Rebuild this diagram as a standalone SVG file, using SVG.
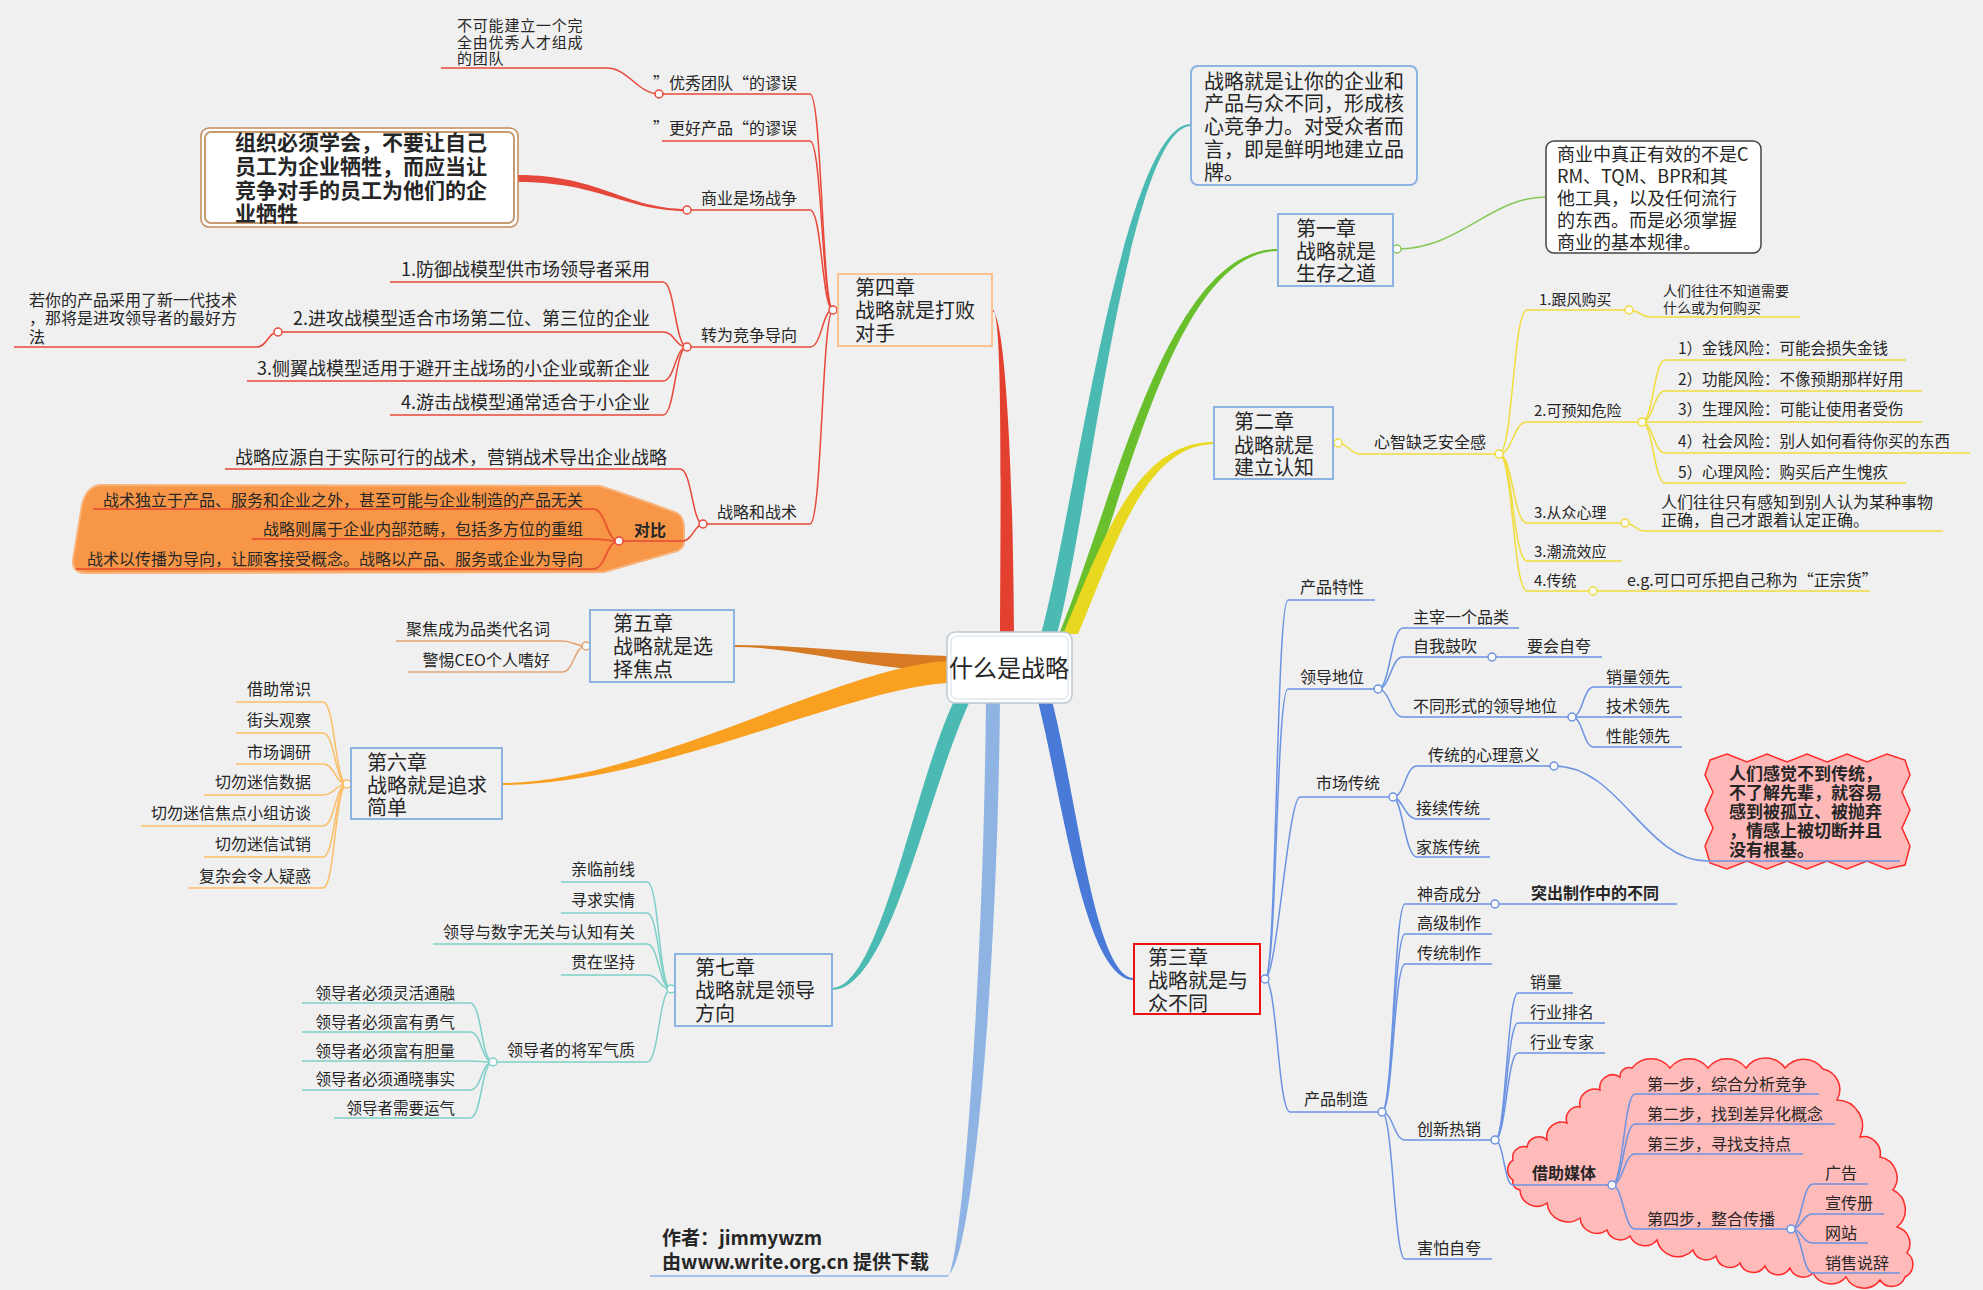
<svg xmlns="http://www.w3.org/2000/svg" width="1983" height="1290" viewBox="0 0 1983 1290">
<style>
.t{font-family:"Noto Sans CJK SC","Noto Sans",sans-serif;fill:#262626}
.e{text-anchor:end}
.m{text-anchor:middle}
.b{font-weight:bold}
.f14{font-size:14px}.f15{font-size:15px}.f155{font-size:15.5px}.f16{font-size:16px}.f17{font-size:17px}.f18{font-size:18px}.f19{font-size:19px}.f20{font-size:20px}.f21{font-size:21px}.f24{font-size:24px}
.ln{fill:none;stroke-width:1.5}
.r{stroke:#e8483a}.r3{stroke:#e85a32;stroke-width:2}
.o5{stroke:#e2a474}.o6{stroke:#fbbd66}.tl{stroke:#7dcfc8}.g{stroke:#86c858}.y{stroke:#f0dc3c}.bl{stroke:#6b93e2}.lb{stroke:#8fb4e8}
.nc{fill:#fafafa;stroke-width:1.5}
.cb{fill:none;stroke:#8db3e2;stroke-width:2}
</style>
<rect x="0" y="0" width="1983" height="1290" fill="#f0f0f0"/>

<!-- background shapes -->
<g id="shapes">
<path id="blob-duibi" fill="#f79646" stroke="#f9b27a" stroke-width="2" d="M102,485 L600,486 C625,494 655,505 677,513 Q684,517 684,528 L684,542 Q684,548 677,551 L604,572 L86,573 Q72,573 73,560 L82,505 Q87,485 102,485 Z"/>
<path id="cloud-meiti" fill="#ffbaba" stroke="#ff2a2a" stroke-width="1.5" d="M1632,1068 A24,24 0 0 1 1670,1068 A24,24 0 0 1 1708,1068 A24,24 0 0 1 1746,1068 A24,24 0 0 1 1785,1068 A24,24 0 0 1 1823,1069 A21,21 0 0 1 1837,1100 A26,26 0 0 1 1860,1137 A17,17 0 0 1 1880,1157 A21,21 0 0 1 1893,1190 A22,22 0 0 1 1897,1227 A17,17 0 0 1 1907,1253 A14,14 0 0 1 1905,1277 A14,14 0 0 1 1880,1280 A20,20 0 0 1 1846,1277 A20,20 0 0 1 1813,1273 A14,14 0 0 1 1790,1268 A14,14 0 0 1 1765,1266 A14,14 0 0 1 1740,1263 A14,14 0 0 1 1716,1256 A14,14 0 0 1 1693,1250 A21,21 0 0 1 1657,1240 A16,16 0 0 1 1630,1236 A14,14 0 0 1 1607,1230 A17,17 0 0 1 1580,1218 A21,21 0 0 1 1547,1203 A17,17 0 0 1 1520,1190 A8,8 0 0 1 1513,1180 A12,12 0 0 1 1513,1160 A11,11 0 0 1 1527,1147 A12,12 0 0 1 1547,1140 A15,15 0 0 1 1567,1123 A12,12 0 0 1 1580,1107 A15,15 0 0 1 1600,1090 A13,13 0 0 1 1620,1077 A9,9 0 0 1 1632,1068 Z"/>
<path id="wave-box" fill="#ffb8b8" stroke="#ff2a2a" stroke-width="1.5" d="M1710,760 L1727,754 L1747,762 L1767,754 L1787,762 L1807,754 L1827,762 L1847,754 L1867,762 L1887,754 L1905,760 L1910,775 L1902,792 L1910,810 L1902,828 L1910,846 L1905,865 L1887,869 L1867,861 L1847,869 L1827,861 L1807,869 L1787,861 L1767,869 L1747,861 L1727,869 L1710,863 L1705,846 L1713,828 L1705,810 L1713,792 L1705,775 Z"/>
</g>

<!-- connectors -->
<g id="connectors">
<!-- main tapered branches -->
<path fill="#e3402f" d="M1000,634 C1001,450 1002,309 992,309 L992,311 C1004,311 1013,450 1014,634 Z"/>
<path fill="#4bbab2" d="M1041,634 C1073,520 1122,124 1191,124 L1191,126 C1128,127 1088,522 1057,634 Z"/>
<path fill="#6ac02c" d="M1059,634 C1115,498 1167,249 1278,249 L1278,251 C1173,252 1126,503 1071,634 Z"/>
<path fill="#e8d820" d="M1063,634 C1104,537 1136,442 1214,442 L1214,444 C1145,445 1116,544 1078,634 Z"/>
<path fill="#4a7ad8" d="M1038,701 C1063,802 1085,980 1134,980 L1134,978 C1095,978 1077,798 1052,701 Z"/>
<path fill="#8fb4e4" d="M986,701 C983,1000 960,1277 947,1277 L947,1275 C970,1275 997,1000 1000,701 Z"/>
<path fill="#4bbab2" d="M954,701 C913,788 880,988 832,988 L832,990 C890,990 927,792 970,701 Z"/>
<path fill="#d67a24" d="M949,656 C860,653 800,645 734,645 L734,647 C800,647 860,668 949,672 Z"/>
<path fill="#f9a020" d="M949,661 C845,664 645,783 502,783 L502,785 C655,785 855,686 949,683 Z"/>
<path class="ln lb" d="M947,1276 H650"/>

<!-- chapter 4 -->
<path class="ln r" d="M833,310 C822,310 822,94 810,94 H659"/>
<path class="ln r" d="M659,94 C638,94 628,68 607,68 H441"/>
<path class="ln r" d="M833,310 C822,310 822,141 810,141 H662"/>
<path class="ln r" d="M833,310 C822,310 822,210 810,210 H687"/>
<path fill="#e5483a" d="M518,175 C600,175 625,209 687,209 L687,211 C625,211 600,182 518,182 Z"/>
<path class="ln r" d="M833,310 C822,310 822,347 810,347 H687"/>
<path class="ln r" d="M833,310 C822,310 822,524 810,524 H703"/>
<path class="ln r" d="M687,347 C675,347 675,282 663,282 H390"/>
<path class="ln r" d="M687,347 C675,347 675,332 663,332 H278"/>
<path class="ln r" d="M278,332 C268,332 267,347 257,347 H14"/>
<path class="ln r" d="M687,347 C675,347 675,381 663,381 H247"/>
<path class="ln r" d="M687,347 C675,347 675,415 663,415 H390"/>
<path class="ln r" d="M703,524 C692,524 692,469 680,469 H225"/>
<path class="ln r" d="M703,524 C695,524 692,541 683,541 H619"/>
<path class="ln r3" d="M619,541 C606,541 606,509 593,509 H93"/>
<path class="ln r3" d="M619,541 C608,541 604,539 593,539 H252"/>
<path class="ln r3" d="M619,541 C606,541 606,569 593,569 H76"/>

<!-- chapter 5 -->
<path class="ln o5" d="M586,646 C574,646 574,641 562,641 H396"/>
<path class="ln o5" d="M586,646 C574,646 574,672 562,672 H408"/>

<!-- chapter 6 -->
<path class="ln o6" d="M347,784 C335,784 335,702 323,702 H236"/>
<path class="ln o6" d="M347,784 C335,784 335,733 323,733 H236"/>
<path class="ln o6" d="M347,784 C335,784 335,764 323,764 H236"/>
<path class="ln o6" d="M347,784 C335,784 335,795 323,795 H204"/>
<path class="ln o6" d="M347,784 C335,784 335,826 323,826 H141"/>
<path class="ln o6" d="M347,784 C335,784 335,857 323,857 H204"/>
<path class="ln o6" d="M347,784 C335,784 335,888 323,888 H188"/>

<!-- chapter 7 -->
<path class="ln tl" d="M671,989 C659,989 659,882 647,882 H561"/>
<path class="ln tl" d="M671,989 C659,989 659,913 647,913 H561"/>
<path class="ln tl" d="M671,989 C659,989 659,944 647,944 H433"/>
<path class="ln tl" d="M671,989 C659,989 659,975 647,975 H561"/>
<path class="ln tl" d="M671,989 C659,989 659,1062 647,1062 H493"/>
<path class="ln tl" d="M493,1062 C481,1062 482,1003 470,1003 H302"/>
<path class="ln tl" d="M493,1062 C481,1062 482,1032 470,1032 H302"/>
<path class="ln tl" d="M493,1062 C481,1062 482,1061 470,1061 H302"/>
<path class="ln tl" d="M493,1062 C481,1062 482,1090 470,1090 H302"/>
<path class="ln tl" d="M493,1062 C481,1062 482,1118 470,1118 H334"/>

<!-- chapter 1 -->
<path class="ln g" d="M1397,249 C1460,249 1490,197 1546,197"/>

<!-- chapter 2 -->
<path class="ln y" d="M1338,443 C1348,443 1350,454 1360,454 H1499"/>
<path class="ln y" d="M1499,454 C1513,454 1513,310 1527,310 H1629"/>
<path class="ln y" d="M1629,310 C1640,310 1640,317 1650,317 H1800"/>
<path class="ln y" d="M1499,454 C1513,454 1513,422 1527,422 H1642"/>
<path class="ln y" d="M1499,454 C1513,454 1513,523 1527,523 H1625"/>
<path class="ln y" d="M1625,523 C1635,523 1635,531 1645,531 H1943"/>
<path class="ln y" d="M1499,454 C1513,454 1513,561 1527,561 H1622"/>
<path class="ln y" d="M1499,454 C1513,454 1513,591 1527,591 H1870"/>
<path class="ln y" d="M1642,422 C1653,422 1654,360 1665,360 H1906"/>
<path class="ln y" d="M1642,422 C1653,422 1654,391 1665,391 H1922"/>
<path class="ln y" d="M1642,422 H1922"/>
<path class="ln y" d="M1642,422 C1653,422 1654,453 1665,453 H1970"/>
<path class="ln y" d="M1642,422 C1653,422 1654,483 1665,483 H1906"/>

<!-- chapter 3 -->
<path class="ln bl" d="M1265,979 C1277,979 1276,600 1288,600 H1375"/>
<path class="ln bl" d="M1265,979 C1277,979 1276,689 1288,689 H1378"/>
<path class="ln bl" d="M1265,979 C1277,979 1288,797 1300,797 H1393"/>
<path class="ln bl" d="M1265,979 C1277,979 1278,1112 1290,1112 H1382"/>
<path class="ln bl" d="M1378,689 C1390,689 1391,628 1403,628 H1519"/>
<path class="ln bl" d="M1378,689 C1390,689 1391,657 1403,657 H1602"/>
<path class="ln bl" d="M1378,689 C1390,689 1391,717 1403,717 H1572"/>
<path class="ln bl" d="M1572,717 C1583,717 1583,687 1594,687 H1682"/>
<path class="ln bl" d="M1572,717 H1682"/>
<path class="ln bl" d="M1572,717 C1583,717 1583,747 1594,747 H1682"/>
<path class="ln bl" d="M1393,797 C1405,797 1405,766 1417,766 H1554"/>
<path class="ln bl" d="M1554,766 C1620,766 1645,861 1707,861 H1900"/>
<path class="ln bl" d="M1393,797 C1402,797 1405,819 1417,819 H1490"/>
<path class="ln bl" d="M1393,797 C1402,797 1405,857 1417,857 H1490"/>
<path class="ln bl" d="M1382,1112 C1393,1112 1394,904 1405,904 H1677"/>
<path class="ln bl" d="M1382,1112 C1393,1112 1394,934 1405,934 H1492"/>
<path class="ln bl" d="M1382,1112 C1393,1112 1394,964 1405,964 H1492"/>
<path class="ln bl" d="M1382,1112 C1393,1112 1394,1140 1405,1140 H1495"/>
<path class="ln bl" d="M1382,1112 C1393,1112 1394,1259 1405,1259 H1492"/>
<path class="ln bl" d="M1495,1140 C1506,1140 1507,993 1518,993 H1573"/>
<path class="ln bl" d="M1495,1140 C1506,1140 1507,1023 1518,1023 H1605"/>
<path class="ln bl" d="M1495,1140 C1506,1140 1507,1053 1518,1053 H1605"/>
<path class="ln bl" d="M1495,1140 C1504,1140 1504,1185 1513,1185 H1612"/>
<path class="ln bl" d="M1612,1185 C1623,1185 1624,1094 1635,1094 H1819"/>
<path class="ln bl" d="M1612,1185 C1623,1185 1624,1124 1635,1124 H1835"/>
<path class="ln bl" d="M1612,1185 C1623,1185 1624,1154 1635,1154 H1803"/>
<path class="ln bl" d="M1612,1185 C1623,1185 1624,1229 1635,1229 H1791"/>
<path class="ln bl" d="M1791,1229 C1802,1229 1802,1184 1813,1184 H1868"/>
<path class="ln bl" d="M1791,1229 C1802,1229 1802,1214 1813,1214 H1884"/>
<path class="ln bl" d="M1791,1229 C1802,1229 1802,1243 1813,1243 H1868"/>
<path class="ln bl" d="M1791,1229 C1802,1229 1802,1273 1813,1273 H1900"/>

<!-- junction circles -->
<g class="nc" stroke="#e8483a">
<circle cx="833" cy="310" r="4"/><circle cx="659" cy="94" r="4"/><circle cx="687" cy="210" r="4"/><circle cx="687" cy="347" r="4"/><circle cx="278" cy="332" r="4"/><circle cx="703" cy="524" r="4"/><circle cx="619" cy="541" r="4"/>
</g>
<circle class="nc" stroke="#e2a474" cx="586" cy="646" r="4"/>
<circle class="nc" stroke="#fbbd66" cx="347" cy="784" r="4"/>
<g class="nc" stroke="#7dcfc8"><circle cx="671" cy="989" r="4"/><circle cx="493" cy="1062" r="4"/></g>
<circle class="nc" stroke="#86c858" cx="1397" cy="249" r="4"/>
<g class="nc" stroke="#f0dc3c">
<circle cx="1338" cy="443" r="4"/><circle cx="1499" cy="454" r="4"/><circle cx="1629" cy="310" r="4"/><circle cx="1642" cy="422" r="4"/><circle cx="1625" cy="523" r="4"/><circle cx="1593" cy="591" r="4"/>
</g>
<g class="nc" stroke="#6b93e2">
<circle cx="1265" cy="979" r="4"/><circle cx="1378" cy="689" r="4"/><circle cx="1492" cy="657" r="4"/><circle cx="1572" cy="717" r="4"/><circle cx="1393" cy="797" r="4"/><circle cx="1554" cy="766" r="4"/><circle cx="1382" cy="1112" r="4"/><circle cx="1495" cy="904" r="4"/><circle cx="1495" cy="1140" r="4"/><circle cx="1612" cy="1185" r="4"/><circle cx="1791" cy="1229" r="4"/>
</g>
</g>

<!-- central -->
<g id="root">
<rect x="947" y="632" width="125" height="71" rx="8" fill="#ffffff" stroke="#bcc6d4" stroke-width="1.5"/>
<rect x="951" y="636" width="117" height="63" rx="6" fill="#ffffff" stroke="#d4dae2" stroke-width="1"/>
<text class="t f24 m" x="1009" y="677">什么是战略</text>
</g>

<!-- chapter 4 -->
<g id="ch4">
<rect x="838" y="274" width="154" height="72" fill="none" stroke="#fbc190" stroke-width="2"/>
<text class="t f20" x="855"><tspan x="855" y="295">第四章</tspan><tspan x="855" y="318">战略就是打败</tspan><tspan x="855" y="341">对手</tspan></text>
</g>
<g id="ch4-items">
<text class="t f15" x="457" style="letter-spacing:0.8px"><tspan x="457" y="31">不可能建立一个完</tspan><tspan x="457" y="48">全由优秀人才组成</tspan><tspan x="457" y="64">的团队</tspan></text>
<text class="t f16 e" x="797" y="89">”优秀团队“的谬误</text>
<text class="t f16 e" x="797" y="134">”更好产品“的谬误</text>
<text class="t f16 e" x="797" y="204">商业是场战争</text>
<text class="t f16 e" x="797" y="341">转为竞争导向</text>
<text class="t f16 e" x="797" y="518">战略和战术</text>
<text class="t f18 e" x="650" y="276">1.防御战模型供市场领导者采用</text>
<text class="t f18 e" x="650" y="325">2.进攻战模型适合市场第二位、第三位的企业</text>
<text class="t f18 e" x="650" y="375">3.侧翼战模型适用于避开主战场的小企业或新企业</text>
<text class="t f18 e" x="650" y="409">4.游击战模型通常适合于小企业</text>
<text class="t f16" x="29"><tspan x="29" y="306">若你的产品采用了新一代技术</tspan><tspan x="29" y="324">，那将是进攻领导者的最好方</tspan><tspan x="29" y="343">法</tspan></text>
<text class="t f18 e" x="667" y="464">战略应源自于实际可行的战术，营销战术导出企业战略</text>
<text class="t f16 e b" x="666" y="536">对比</text>
<text class="t f16 e" x="583" y="506">战术独立于产品、服务和企业之外，甚至可能与企业制造的产品无关</text>
<text class="t f16 e" x="583" y="535">战略则属于企业内部范畴，包括多方位的重组</text>
<text class="t f16 e" x="583" y="565">战术以传播为导向，让顾客接受概念。战略以产品、服务或企业为导向</text>
</g>
<g id="box-zuzhi">
<rect x="201" y="128" width="317" height="99" rx="8" fill="#ffffff" stroke="#c08a5a" stroke-width="1.5"/>
<rect x="205" y="132" width="309" height="91" rx="6" fill="#ffffff" stroke="#c89a70" stroke-width="2"/>
<text class="t f21 b" x="235"><tspan x="235" y="150">组织必须学会，不要让自己</tspan><tspan x="235" y="174">员工为企业牺牲，而应当让</tspan><tspan x="235" y="198">竞争对手的员工为他们的企</tspan><tspan x="235" y="221">业牺牲</tspan></text>
</g>

<!-- chapter 5 -->
<g id="ch5">
<rect x="590" y="610" width="144" height="72" class="cb"/>
<text class="t f20" x="613"><tspan x="613" y="631">第五章</tspan><tspan x="613" y="654">战略就是选</tspan><tspan x="613" y="677">择焦点</tspan></text>
<text class="t f16 e" x="550" y="635">聚焦成为品类代名词</text>
<text class="t f16 e" x="550" y="666">警惕CEO个人嗜好</text>
</g>

<!-- chapter 6 -->
<g id="ch6">
<rect x="351" y="748" width="151" height="71" class="cb"/>
<text class="t f20" x="367"><tspan x="367" y="770">第六章</tspan><tspan x="367" y="793">战略就是追求</tspan><tspan x="367" y="815">简单</tspan></text>
<text class="t f16 e" x="311" y="695">借助常识</text>
<text class="t f16 e" x="311" y="726">街头观察</text>
<text class="t f16 e" x="311" y="758">市场调研</text>
<text class="t f16 e" x="311" y="788">切勿迷信数据</text>
<text class="t f16 e" x="311" y="819">切勿迷信焦点小组访谈</text>
<text class="t f16 e" x="311" y="850">切勿迷信试销</text>
<text class="t f16 e" x="311" y="882">复杂会令人疑惑</text>
</g>

<!-- chapter 7 -->
<g id="ch7">
<rect x="675" y="954" width="157" height="72" class="cb"/>
<text class="t f20" x="695"><tspan x="695" y="975">第七章</tspan><tspan x="695" y="998">战略就是领导</tspan><tspan x="695" y="1021">方向</tspan></text>
<text class="t f16 e" x="635" y="875">亲临前线</text>
<text class="t f16 e" x="635" y="906">寻求实情</text>
<text class="t f16 e" x="635" y="938">领导与数字无关与认知有关</text>
<text class="t f16 e" x="635" y="968">贯在坚持</text>
<text class="t f16 e" x="635" y="1056">领导者的将军气质</text>
<text class="t f155 e" x="455" y="999">领导者必须灵活通融</text>
<text class="t f155 e" x="455" y="1028">领导者必须富有勇气</text>
<text class="t f155 e" x="455" y="1057">领导者必须富有胆量</text>
<text class="t f155 e" x="455" y="1085">领导者必须通晓事实</text>
<text class="t f155 e" x="455" y="1114">领导者需要运气</text>
</g>

<!-- author -->
<g id="author">
<text class="t f19 b" x="662"><tspan x="662" y="1245">作者：jimmywzm</tspan><tspan x="662" y="1269">由www.write.org.cn 提供下载</tspan></text>
</g>

<!-- top definition -->
<g id="definition">
<rect x="1191" y="66" width="226" height="119" rx="7" fill="none" stroke="#8db3e2" stroke-width="2"/>
<text class="t f20" x="1204"><tspan x="1204" y="89">战略就是让你的企业和</tspan><tspan x="1204" y="111">产品与众不同，形成核</tspan><tspan x="1204" y="134">心竞争力。对受众者而</tspan><tspan x="1204" y="157">言，即是鲜明地建立品</tspan><tspan x="1204" y="180">牌。</tspan></text>
</g>

<!-- chapter 1 -->
<g id="ch1">
<rect x="1278" y="214" width="115" height="72" class="cb"/>
<text class="t f20" x="1296"><tspan x="1296" y="236">第一章</tspan><tspan x="1296" y="259">战略就是</tspan><tspan x="1296" y="281">生存之道</tspan></text>
</g>
<g id="box-shangye">
<rect x="1546" y="141" width="215" height="112" rx="8" fill="#ffffff" stroke="#444444" stroke-width="1.5"/>
<text class="t f18" x="1557"><tspan x="1557" y="161">商业中真正有效的不是C</tspan><tspan x="1557" y="183">RM、TQM、BPR和其</tspan><tspan x="1557" y="205">他工具，以及任何流行</tspan><tspan x="1557" y="227">的东西。而是必须掌握</tspan><tspan x="1557" y="249">商业的基本规律。</tspan></text>
</g>

<!-- chapter 2 -->
<g id="ch2">
<rect x="1214" y="407" width="119" height="72" class="cb"/>
<text class="t f20" x="1234"><tspan x="1234" y="429">第二章</tspan><tspan x="1234" y="453">战略就是</tspan><tspan x="1234" y="475">建立认知</tspan></text>
<text class="t f16" x="1374" y="448">心智缺乏安全感</text>
<text class="t f15" x="1539" y="305">1.跟风购买</text>
<text class="t f14" x="1663"><tspan x="1663" y="296">人们往往不知道需要</tspan><tspan x="1663" y="313">什么或为何购买</tspan></text>
<text class="t f15" x="1534" y="416">2.可预知危险</text>
<text class="t f155" x="1678" y="354">1）金钱风险：可能会损失金钱</text>
<text class="t f155" x="1678" y="385">2）功能风险：不像预期那样好用</text>
<text class="t f155" x="1678" y="415">3）生理风险：可能让使用者受伤</text>
<text class="t f155" x="1678" y="447">4）社会风险：别人如何看待你买的东西</text>
<text class="t f155" x="1678" y="478">5）心理风险：购买后产生愧疚</text>
<text class="t f15" x="1534" y="518">3.从众心理</text>
<text class="t f16" x="1661"><tspan x="1661" y="508">人们往往只有感知到别人认为某种事物</tspan><tspan x="1661" y="526">正确，自己才跟着认定正确。</tspan></text>
<text class="t f15" x="1534" y="557">3.潮流效应</text>
<text class="t f15" x="1534" y="586">4.传统</text>
<text class="t f16" x="1627" y="586">e.g.可口可乐把自己称为“正宗货”</text>
</g>

<!-- chapter 3 -->
<g id="ch3">
<rect x="1134" y="944" width="126" height="70" fill="none" stroke="#ee1111" stroke-width="2"/>
<text class="t f20" x="1148"><tspan x="1148" y="965">第三章</tspan><tspan x="1148" y="988">战略就是与</tspan><tspan x="1148" y="1011">众不同</tspan></text>
<text class="t f16" x="1300" y="593">产品特性</text>
<text class="t f16" x="1300" y="683">领导地位</text>
<text class="t f16" x="1413" y="623">主宰一个品类</text>
<text class="t f16" x="1413" y="652">自我鼓吹</text>
<text class="t f16" x="1527" y="652">要会自夸</text>
<text class="t f16" x="1413" y="712">不同形式的领导地位</text>
<text class="t f16" x="1606" y="683">销量领先</text>
<text class="t f16" x="1606" y="712">技术领先</text>
<text class="t f16" x="1606" y="742">性能领先</text>
<text class="t f16" x="1316" y="789">市场传统</text>
<text class="t f16" x="1428" y="761">传统的心理意义</text>
<text class="t f16" x="1416" y="814">接续传统</text>
<text class="t f16" x="1416" y="853">家族传统</text>
<text class="t f17 b" x="1729"><tspan x="1729" y="780">人们感觉不到传统，</tspan><tspan x="1729" y="799">不了解先辈，就容易</tspan><tspan x="1729" y="818">感到被孤立、被抛弃</tspan><tspan x="1729" y="837">，情感上被切断并且</tspan><tspan x="1729" y="856">没有根基。</tspan></text>
<text class="t f16" x="1304" y="1105">产品制造</text>
<text class="t f16" x="1417" y="900">神奇成分</text>
<text class="t f16 b" x="1531" y="899">突出制作中的不同</text>
<text class="t f16" x="1417" y="929">高级制作</text>
<text class="t f16" x="1417" y="959">传统制作</text>
<text class="t f16" x="1417" y="1135">创新热销</text>
<text class="t f16" x="1417" y="1254">害怕自夸</text>
<text class="t f16" x="1530" y="988">销量</text>
<text class="t f16" x="1530" y="1018">行业排名</text>
<text class="t f16" x="1530" y="1048">行业专家</text>
<text class="t f16 b" x="1532" y="1179">借助媒体</text>
<text class="t f16" x="1647" y="1090">第一步，综合分析竞争</text>
<text class="t f16" x="1647" y="1120">第二步，找到差异化概念</text>
<text class="t f16" x="1647" y="1150">第三步，寻找支持点</text>
<text class="t f16" x="1647" y="1225">第四步，整合传播</text>
<text class="t f16" x="1825" y="1179">广告</text>
<text class="t f16" x="1825" y="1209">宣传册</text>
<text class="t f16" x="1825" y="1239">网站</text>
<text class="t f16" x="1825" y="1269">销售说辞</text>
</g>
</svg>
